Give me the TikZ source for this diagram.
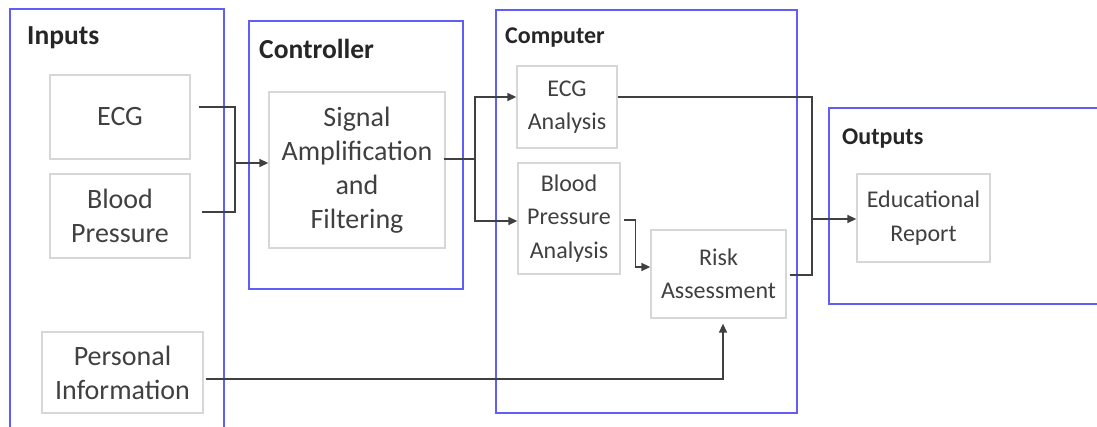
\documentclass[tikz,border=0pt]{standalone}
\usepackage{fontspec}
\setmainfont{Carlito}
\usetikzlibrary{arrows.meta,calc}
\definecolor{framecol}{RGB}{95,95,245}
\definecolor{boxcol}{RGB}{215,215,215}
\definecolor{inkcol}{RGB}{64,64,64}
\begin{document}
\begin{tikzpicture}[x=1pt,y=-1pt,
  frame/.style={draw=framecol,line width=1.6pt},
  ttl/.style={anchor=west,inner sep=0pt,font=\fontsize{27.5}{30}\selectfont\bfseries,text=black!85},
  ttlsmall/.style={ttl,font=\fontsize{24}{28}\selectfont\bfseries},
  blk/.style={draw=boxcol,line width=1.3pt,align=center,inner sep=0pt,text=inkcol,
    font=\fontsize{28}{34}\selectfont},
  blksmall/.style={blk,font=\fontsize{24}{33.5}\selectfont},
  wire/.style={draw=inkcol,line width=1.5pt},
  arr/.style={wire,-{Triangle[length=9pt,width=8pt]}}]
\useasboundingbox (0,0) rectangle (1097,427);
\clip (0,0) rectangle (1097,427);
\draw[frame] (10,9) rectangle (224,440);
\draw[frame] (249,21) rectangle (463,289);
\draw[frame] (496,10) rectangle (797,413);
\draw[frame] (829,108) rectangle (1110,304);
\node[ttl] (tin) at (27,38) {Inputs};
\node[ttl] (tctl) at (259,49) {Controller};
\node[ttlsmall] (tcmp) at (505,38) {Computer};
\node[ttlsmall] (tout) at (842,139) {Outputs};
\node[blk,minimum width=140pt,minimum height=84pt] (ecg) at (120,117) {ECG};
\node[blk,minimum width=140pt,minimum height=84pt] (bp) at (120,216) {Blood\\Pressure};
\node[blk,minimum width=161pt,minimum height=81pt] (pinfo) at (122.5,372.5) {Personal\\Information};
\node[blk,minimum width=176pt,minimum height=156pt] (amp) at (357,170) {Signal\\Amplification\\and\\Filtering};
\node[blksmall,minimum width=100pt,minimum height=82pt] (ecga) at (567,107) {ECG\\Analysis};
\node[blksmall,minimum width=102pt,minimum height=111pt] (bpa) at (569,218.5) {Blood\\Pressure\\Analysis};
\node[blksmall,minimum width=135pt,minimum height=88pt] (risk) at (718.5,274) {Risk\\Assessment};
\node[blksmall,minimum width=133pt,minimum height=88pt] (report) at (923.5,218) {Educational\\Report};
\coordinate (jin) at (235,163);
\coordinate (jamp) at (475,159);
\coordinate (jout) at (812,219);
\draw[wire] ([xshift=8pt,yshift=10pt]ecg.east) -| (jin);
\draw[wire] ([xshift=11pt,yshift=4pt]bp.east) -| (jin);
\draw[arr] (jin) -- (jin -| amp.west);
\draw[wire] ([xshift=-2pt,yshift=11pt]amp.east) -- (jamp);
\draw[arr] (jamp) |- ([yshift=10pt]ecga.west);
\draw[arr] (jamp) |- ([yshift=-2.5pt]bpa.west);
\draw[wire] ([yshift=10pt]ecga.east) -| (jout);
\draw[wire] ([xshift=3pt,yshift=-1pt]risk.east) -| (jout);
\draw[arr] (jout) -- (jout -| report.west);
\draw[arr] ([xshift=3pt,yshift=-1.5pt]bpa.east) -- ++(12,0) |- ([yshift=7pt]risk.west);
\draw[arr] ([xshift=2pt,yshift=-6.5pt]pinfo.east) -| ([xshift=4.5pt,yshift=-5pt]risk.south);
\end{tikzpicture}
\end{document}
